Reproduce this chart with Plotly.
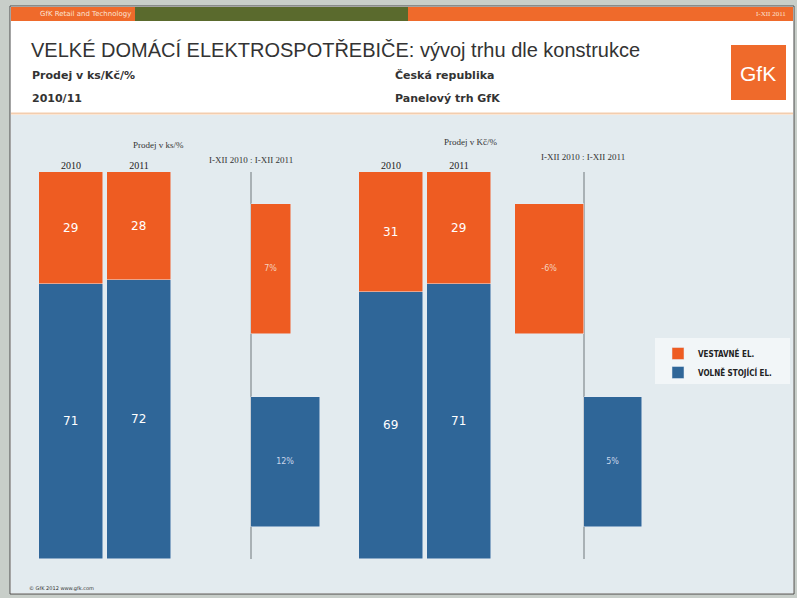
import plotly.graph_objects as go

# ---- data ----
years = ["2010", "2011"]
segments = ["VESTAVNÉ EL.", "VOLNĚ STOJÍCÍ EL."]
vestavne_ks = [29, 28]
volne_ks = [71, 72]
vestavne_kc = [31, 29]
volne_kc = [69, 71]
growth_ks = [7, 12]
growth_kc = [-6, 5]
growth_label = "I-XII 2010 : I-XII 2011"

ORANGE = "#ee5c22"
BLUE = "#2f6698"
W, H = 797, 598


def px(x):
    return x / W


def py(y):
    return 1 - y / H


fig = go.Figure()

# stacked bars, units
fig.add_trace(go.Bar(x=years, y=volne_ks, name=segments[1], marker_color=BLUE,
                     text=volne_ks, textposition="inside", insidetextanchor="middle",
                     textfont=dict(color="white", size=12), width=0.955,
                     xaxis="x", yaxis="y", legendgroup="b", showlegend=True))
fig.add_trace(go.Bar(x=years, y=vestavne_ks, name=segments[0], marker_color=ORANGE,
                     text=vestavne_ks, textposition="inside", insidetextanchor="middle",
                     textfont=dict(color="white", size=12), width=0.955,
                     xaxis="x", yaxis="y", legendgroup="a", showlegend=True))
# stacked bars, value
fig.add_trace(go.Bar(x=years, y=volne_kc, name=segments[1], marker_color=BLUE,
                     text=volne_kc, textposition="inside", insidetextanchor="middle",
                     textfont=dict(color="white", size=12), width=0.955,
                     xaxis="x3", yaxis="y3", legendgroup="b", showlegend=False))
fig.add_trace(go.Bar(x=years, y=vestavne_kc, name=segments[0], marker_color=ORANGE,
                     text=vestavne_kc, textposition="inside", insidetextanchor="middle",
                     textfont=dict(color="white", size=12), width=0.955,
                     xaxis="x3", yaxis="y3", legendgroup="a", showlegend=False))
# growth bars
fig.add_trace(go.Bar(y=segments, x=growth_ks, orientation="h",
                     marker_color=[ORANGE, BLUE], width=0.67,
                     text=[f"{v}%" for v in growth_ks], textposition="inside",
                     insidetextanchor="middle",
                     textfont=dict(color=["#f6d2bd", "#c9d6ea"], size=8),
                     xaxis="x2", yaxis="y2", showlegend=False))
fig.add_trace(go.Bar(y=segments, x=growth_kc, orientation="h",
                     marker_color=[ORANGE, BLUE], width=0.67,
                     text=[f"{v}%" for v in growth_kc], textposition="inside",
                     insidetextanchor="middle",
                     textfont=dict(color=["#f6d2bd", "#c9d6ea"], size=8),
                     xaxis="x4", yaxis="y4", showlegend=False))

ydom = [py(559), py(172)]
serif = "Liberation Serif, DejaVu Serif, serif"
cat_x = dict(type="category", side="top", showgrid=False, zeroline=False,
             showline=False, ticks="", tickfont=dict(family=serif, size=10, color="#222"),
             range=[-0.5, 1.5])
val_y = dict(range=[0, 100], showgrid=False, zeroline=False, showline=False,
             showticklabels=False, domain=ydom)
seg_y = dict(type="category", autorange="reversed", showgrid=False, zeroline=False,
             showline=False, showticklabels=False, domain=ydom)
zero_x = dict(showgrid=False, zeroline=True, zerolinecolor="#a9b1b5", zerolinewidth=1.5,
              showline=False, showticklabels=False, ticks="")

fig.update_layout(
    width=W, height=H, margin=dict(l=0, r=0, t=0, b=0),
    paper_bgcolor="#c8cec9", plot_bgcolor="rgba(0,0,0,0)",
    barmode="stack", bargap=0,
    font=dict(family="DejaVu Sans, Verdana, sans-serif", color="#333"),
    xaxis=dict(cat_x, domain=[px(37), px(173)], anchor="y"),
    yaxis=dict(val_y, anchor="x"),
    xaxis2=dict(zero_x, domain=[px(230), px(340)], range=[-21 / 5.75, 89 / 5.75], anchor="y2"),
    yaxis2=dict(seg_y, anchor="x2"),
    xaxis3=dict(cat_x, domain=[px(357), px(493)], anchor="y3"),
    yaxis3=dict(val_y, anchor="x3"),
    xaxis4=dict(zero_x, domain=[px(500), px(650)], range=[-84 / 11.5, 66 / 11.5], anchor="y4"),
    yaxis4=dict(seg_y, anchor="x4"),
    legend=dict(x=px(658), y=py(339), xanchor="left", yanchor="top",
                traceorder="reversed", bgcolor="rgba(0,0,0,0)",
                font=dict(size=8, color="#222", weight="bold",
                          family="Liberation Sans Narrow, Arial Narrow, DejaVu Sans Condensed, sans-serif"),
                itemwidth=30, tracegroupgap=0),
)


def rect(x0, y0, x1, y1, fill, line=None, lw=0):
    return dict(type="rect", xref="paper", yref="paper", x0=px(x0), x1=px(x1),
                y0=py(y1), y1=py(y0), fillcolor=fill,
                line=dict(color=line or fill, width=lw), layer="below")


shapes = [
    rect(10, 6, 794, 594, "#ffffff", "#4a4a4a", 1),
    rect(11, 115, 793, 593, "#e3ebef"),
    rect(11, 7, 135, 21, "#ef6a2b"),
    rect(135, 7, 408, 21, "#5a6a2d"),
    rect(408, 7, 793, 21, "#ef6a2b"),
    dict(type="line", xref="paper", yref="paper", x0=px(11), x1=px(793),
         y0=py(113.5), y1=py(113.5), line=dict(color="#f3cdae", width=2), layer="below"),
    rect(731, 45, 786, 100, "#ef6a2b"),
    rect(655, 338, 790, 384, "rgba(255,255,255,0.55)"),
]
fig.update_layout(shapes=shapes)


def ann(text, x, y, size=10, color="#333", xanchor="left", family=None, bold=False):
    t = f"<b>{text}</b>" if bold else text
    return dict(text=t, x=px(x), y=py(y), xref="paper", yref="paper", showarrow=False,
                xanchor=xanchor, yanchor="middle",
                font=dict(size=size, color=color, family=family) if family else dict(size=size, color=color))


hdr = "Tahoma, DejaVu Sans, sans-serif"
annotations = [
    ann("GfK Retail and Technology", 38, 14, 7, "#fbe3d4"),
    ann("I-XII 2011", 788, 14, 7, "#fbe3d4", xanchor="right", family=serif),
    ann("VELKÉ DOMÁCÍ ELEKTROSPOTŘEBIČE: vývoj trhu dle konstrukce", 29, 50, 20, "#333",
        family="Liberation Sans, Arial, sans-serif"),
    ann("Prodej v ks/Kč/%", 30, 75, 11, "#333", bold=True, family=hdr),
    ann("2010/11", 30, 98, 11, "#333", bold=True, family=hdr),
    ann("Česká republika", 393, 75, 11, "#333", bold=True, family=hdr),
    ann("Panelový trh GfK", 393, 98, 11, "#333", bold=True, family=hdr),
    ann("GfK", 758, 73, 21, "white", xanchor="center", family="Liberation Sans, Arial, sans-serif"),
    ann("Prodej v ks/%", 158, 145, 9, "#333", xanchor="center", family=serif),
    ann(growth_label, 251, 160, 9, "#333", xanchor="center", family=serif),
    ann("Prodej v Kč/%", 470, 142, 9, "#333", xanchor="center", family=serif),
    ann(growth_label, 583, 157, 9, "#333", xanchor="center", family=serif),
    ann("© GfK 2012 www.gfk.com", 27, 588, 5, "#333"),
]
fig.update_layout(annotations=annotations)

fig.write_html("out.html", config={"displayModeBar": False},
               post_script="document.body.style.margin='0';document.body.style.padding='0';")
